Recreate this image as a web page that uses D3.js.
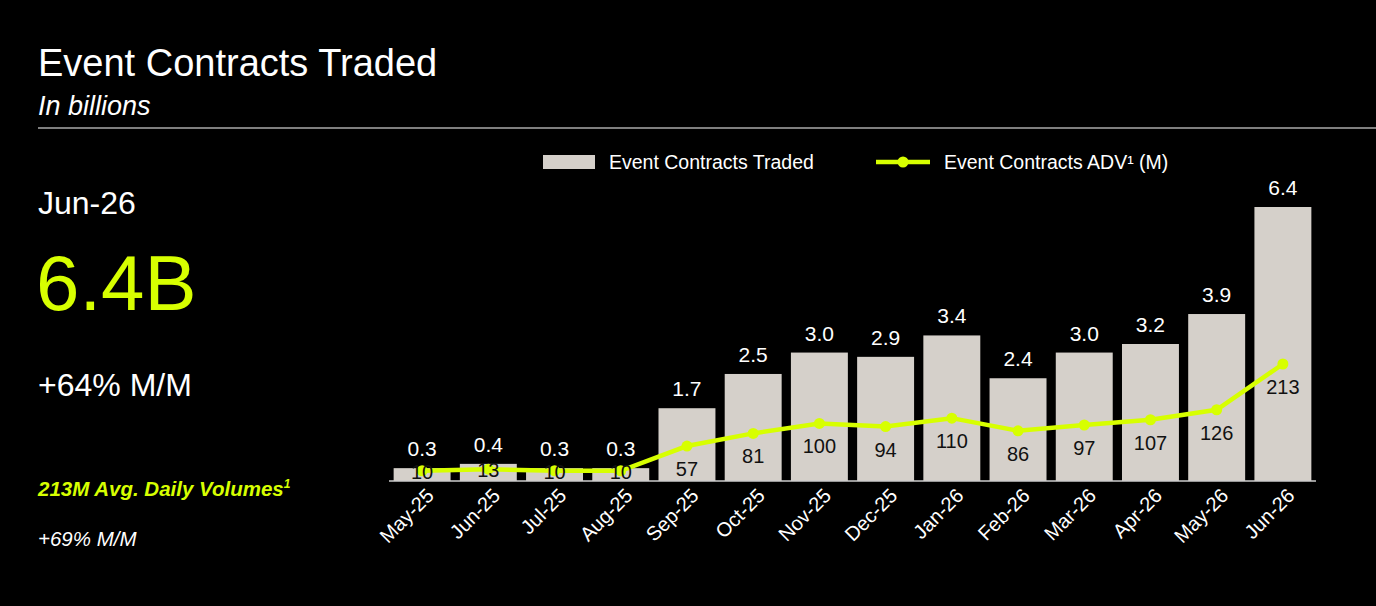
<!DOCTYPE html>
<html><head><meta charset="utf-8">
<script src="https://cdn.jsdelivr.net/npm/d3@7"></script>
<style>
body{margin:0;background:#000;}
text{font-family:"Liberation Sans",Arial,sans-serif;}
</style></head>
<body><svg id="c" width="1376" height="606"></svg>
<script>
var months = ['May-25','Jun-25','Jul-25','Aug-25','Sep-25','Oct-25','Nov-25','Dec-25','Jan-26','Feb-26','Mar-26','Apr-26','May-26','Jun-26'];
var traded = [0.3,0.4,0.3,0.3,1.7,2.5,3.0,2.9,3.4,2.4,3.0,3.2,3.9,6.4];
var adv = [10,13,10,10,57,81,100,94,110,86,97,107,126,213];

var lime = '#d7ff00', barFill = '#d5d0ca';
var svg = d3.select('#c');
svg.append('rect').attr('width',1376).attr('height',606).attr('fill','#000');

// header
svg.append('text').attr('x',38).attr('y',76).attr('fill','#fff').attr('font-size',38).text('Event Contracts Traded');
svg.append('text').attr('x',38).attr('y',115).attr('fill','#fff').attr('font-size',27).attr('font-style','italic').text('In billions');
svg.append('line').attr('x1',38).attr('x2',1376).attr('y1',128).attr('y2',128).attr('stroke','#aaa').attr('stroke-width',1.5);

// left panel
svg.append('text').attr('x',38).attr('y',214).attr('fill','#fff').attr('font-size',32).text('Jun-26');
svg.append('text').attr('x',36).attr('y',310).attr('fill',lime).attr('font-size',78).text('6.4B');
svg.append('text').attr('x',38).attr('y',396).attr('fill','#fff').attr('font-size',32).text('+64% M/M');
var t = svg.append('text').attr('x',38).attr('y',496).attr('fill',lime).attr('font-size',20.5).attr('font-weight','bold').attr('font-style','italic');
t.append('tspan').text('213M Avg. Daily Volumes');
t.append('tspan').attr('font-size',12).attr('dy',-8).text('1');
svg.append('text').attr('x',38).attr('y',546).attr('fill','#fff').attr('font-size',20.5).attr('font-style','italic').text('+69% M/M');

// scales
var base = 481;
var x = d3.scaleBand().domain(months).range([389,1316]).paddingInner(0.14).paddingOuter(0.07);
var y = d3.scaleLinear().domain([0,6.4]).range([base,207]);
var y2 = d3.scaleLinear().domain([0,213]).range([base-5,364]);
var cx = function(d){ return x(d) + x.bandwidth()/2; };

var g = svg.append('g');
g.selectAll('rect.bar').data(months).join('rect').attr('class','bar')
  .attr('x',function(d){return x(d);}).attr('width',x.bandwidth())
  .attr('y',function(d,i){return y(traded[i]);})
  .attr('height',function(d,i){return base - y(traded[i]);})
  .attr('fill',barFill);
g.selectAll('text.bv').data(months).join('text').attr('class','bv')
  .attr('x',cx).attr('y',function(d,i){return y(traded[i]) - 12;})
  .attr('text-anchor','middle').attr('fill','#fff').attr('font-size',21)
  .text(function(d,i){return traded[i].toFixed(1);});

// x axis
var ax = svg.append('g').attr('transform','translate(0,'+base+')')
  .call(d3.axisBottom(x).tickSize(0).tickPadding(0));
ax.select('.domain').attr('stroke','#ccc').attr('stroke-width',1.5).attr('d','M389,0H1316');
ax.selectAll('text').attr('fill','#fff').attr('font-size',20)
  .attr('text-anchor','end').attr('dy',0)
  .attr('transform','translate(13,16) rotate(-45)');

// line
var line = d3.line().x(function(d){return cx(d);}).y(function(d,i){return y2(adv[i]);});
svg.append('path').datum(months).attr('d',line).attr('fill','none').attr('stroke',lime).attr('stroke-width',4.5);
svg.selectAll('circle.pt').data(months).join('circle').attr('class','pt')
  .attr('cx',cx).attr('cy',function(d,i){return y2(adv[i]);}).attr('r',5.5).attr('fill',lime);
svg.selectAll('text.lv').data(months).join('text').attr('class','lv')
  .attr('x',cx).attr('y',function(d,i){return adv[i] < 20 ? y2(adv[i]) + 8 : y2(adv[i]) + 30;})
  .attr('text-anchor','middle').attr('fill','#111').attr('font-size',20)
  .text(function(d,i){return adv[i];});

// legend
var lg = svg.append('g');
lg.append('rect').attr('x',543).attr('y',155).attr('width',52).attr('height',14).attr('fill',barFill);
lg.append('text').attr('x',609).attr('y',169).attr('fill','#fff').attr('font-size',19.5).text('Event Contracts Traded');
lg.append('line').attr('x1',876).attr('x2',930).attr('y1',162).attr('y2',162).attr('stroke',lime).attr('stroke-width',4.5);
lg.append('circle').attr('cx',903).attr('cy',162).attr('r',5.5).attr('fill',lime);
lg.append('text').attr('x',944).attr('y',169).attr('fill','#fff').attr('font-size',19.5).text('Event Contracts ADV¹ (M)');
</script></body></html>
